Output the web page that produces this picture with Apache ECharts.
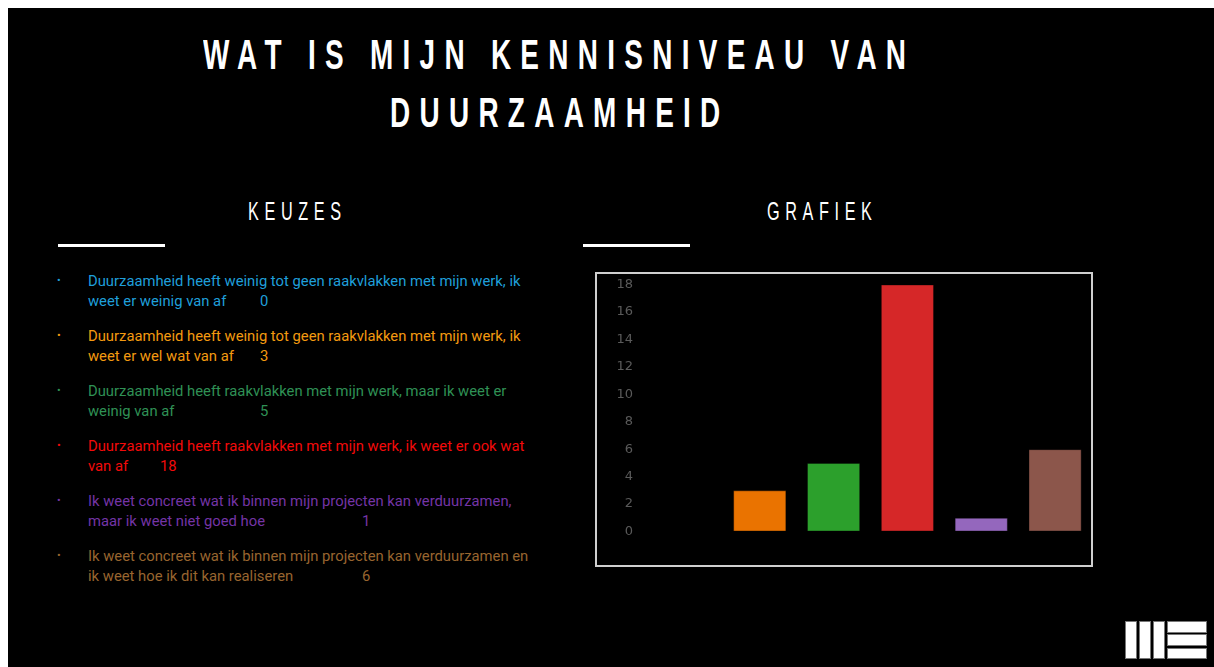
<!DOCTYPE html>
<html>
<head>
<meta charset="utf-8">
<script src="https://cdn.jsdelivr.net/npm/echarts@6/dist/echarts.min.js"></script>
<style>
  html, body { margin: 0; padding: 0; background: #fff; width: 1214px; height: 667px; overflow: hidden; }
  #slide { position: absolute; left: 8px; top: 8px; width: 1206px; height: 659px; background: #000; }
  .fit { position: absolute; color: #fff; white-space: nowrap; line-height: 1;
         font-family: 'Liberation Sans', 'Arimo', sans-serif; transform-origin: 0 0; }
  .title { font-weight: bold; font-size: 42px; letter-spacing: 14px; }
  .head { font-size: 26px; letter-spacing: 9px; }
  .rule { position: absolute; height: 3px; background: #fff; width: 107px; }
  .item { position: absolute; left: 80px; font-family: 'Roboto', 'Liberation Sans', sans-serif; font-size: 14.8px; line-height: 20px; white-space: nowrap; }
  .bul { position: absolute; left: -31px; top: 0; font-size: 11px; }
  .num { position: absolute; top: 20px; }
  #chart { position: absolute; left: 587px; top: 264px; width: 499px; height: 295px; }
  .logo { position: absolute; background: #fff; border: 1px solid #777; box-sizing: border-box; }
</style>
</head>
<body>
<div id="slide">
  <span class="fit title" id="t1">WAT IS MIJN KENNISNIVEAU VAN</span>
  <span class="fit title" id="t2">DUURZAAMHEID</span>
  <span class="fit head" id="h1">KEUZES</span>
  <span class="fit head" id="h2">GRAFIEK</span>
  <div class="rule" style="left:50px; top:236px;"></div>
  <div class="rule" style="left:575px; top:236px;"></div>
  <div id="list"></div>
  <div id="chart"></div>
  <div class="logo" style="left:1117px; top:613px; width:12px; height:38px;"></div>
  <div class="logo" style="left:1131px; top:613px; width:12px; height:38px;"></div>
  <div class="logo" style="left:1145px; top:613px; width:12px; height:38px;"></div>
  <div class="logo" style="left:1159px; top:613px; width:40px; height:12px;"></div>
  <div class="logo" style="left:1159px; top:626px; width:40px; height:12px;"></div>
  <div class="logo" style="left:1159px; top:640px; width:40px; height:11px;"></div>
</div>
<script>
// Data
const categories = [
  "Duurzaamheid heeft weinig tot geen raakvlakken met mijn werk, ik weet er weinig van af",
  "Duurzaamheid heeft weinig tot geen raakvlakken met mijn werk, ik weet er wel wat van af",
  "Duurzaamheid heeft raakvlakken met mijn werk, maar ik weet er weinig van af",
  "Duurzaamheid heeft raakvlakken met mijn werk, ik weet er ook wat van af",
  "Ik weet concreet wat ik binnen mijn projecten kan verduurzamen, maar ik weet niet goed hoe",
  "Ik weet concreet wat ik binnen mijn projecten kan verduurzamen en ik weet hoe ik dit kan realiseren"
];
const line1 = [
  "Duurzaamheid heeft weinig tot geen raakvlakken met mijn werk, ik",
  "Duurzaamheid heeft weinig tot geen raakvlakken met mijn werk, ik",
  "Duurzaamheid heeft raakvlakken met mijn werk, maar ik weet er",
  "Duurzaamheid heeft raakvlakken met mijn werk, ik weet er ook wat",
  "Ik weet concreet wat ik binnen mijn projecten kan verduurzamen,",
  "Ik weet concreet wat ik binnen mijn projecten kan verduurzamen en"
];
const line2 = [
  "weet er weinig van af",
  "weet er wel wat van af",
  "weinig van af",
  "van af",
  "maar ik weet niet goed hoe",
  "ik weet hoe ik dit kan realiseren"
];
const counts = [0, 3, 5, 18, 1, 6];
const barColors = ["#1f77b4", "#ea7300", "#2ca02c", "#d62728", "#9467bd", "#8c564b"];
const textColors = ["#1f9fda", "#f39a10", "#2f9155", "#f20a0a", "#7434a6", "#98652f"];
const yTicks = { min: 0, max: 18, interval: 2 };

// Condensed headings: scale horizontally to fit the target box (slide coords)
function fit(id, x0, x1, top, scaleRef) {
  const el = document.getElementById(id);
  const ls = parseFloat(getComputedStyle(el).letterSpacing) || 0;
  const w = el.getBoundingClientRect().width - ls;
  const s = scaleRef || (x1 - x0) / w;
  const cx = (x0 + x1) / 2;
  el.style.left = (cx - w * s / 2 - 8) + 'px';
  el.style.top = (top - 8) + 'px';
  el.style.transform = 'scaleX(' + s + ')';
  return s;
}
const sT = fit('t1', 203, 906, 34);
fit('t2', 387, 723, 92, sT);
const sH = fit('h1', 248, 341, 198);
fit('h2', 767, 871, 198, sH);

// List (text)
const list = document.getElementById('list');
const numX = [252, 252, 252, 152, 354, 354];
categories.forEach((c, i) => {
  const d = document.createElement('div');
  d.className = 'item';
  d.style.top = (263 + i * 55) + 'px';
  d.style.color = textColors[i];
  d.innerHTML = '<span class="bul">&#8226;</span>' + line1[i] + '<br>' + line2[i] +
    '<span class="num" style="left:' + (numX[i] - 80) + 'px">' + counts[i] + '</span>';
  list.appendChild(d);
});

// Chart
const chart = echarts.init(document.getElementById('chart'), null, { renderer: 'canvas' });
chart.setOption({
  backgroundColor: '#000',
  animation: false,
  graphic: [{
    type: 'rect', shape: { x: 1, y: 1, width: 496, height: 293 },
    style: { fill: 'none', stroke: '#cfcfcf', lineWidth: 2 }, z: 100
  }],
  grid: { left: 54, right: 2, top: 12.5, bottom: 35.5 },
  xAxis: {
    type: 'category', data: categories,
    axisLine: { show: false }, axisTick: { show: false }, axisLabel: { show: false }
  },
  yAxis: {
    type: 'value', min: yTicks.min, max: yTicks.max, interval: yTicks.interval,
    axisLine: { show: false }, axisTick: { show: false }, splitLine: { show: false },
    axisLabel: { color: '#5a5a5a', fontSize: 13, fontFamily: 'DejaVu Sans', margin: 16, padding: [6, 0, 0, 0] }
  },
  series: [{
    type: 'bar',
    data: counts.map((v, i) => ({ value: v, itemStyle: { color: barColors[i] } })),
    barCategoryGap: '28%',
    itemStyle: { borderColor: 'rgba(0,0,0,0.35)', borderWidth: 1 }
  }]
});
</script>
</body>
</html>
